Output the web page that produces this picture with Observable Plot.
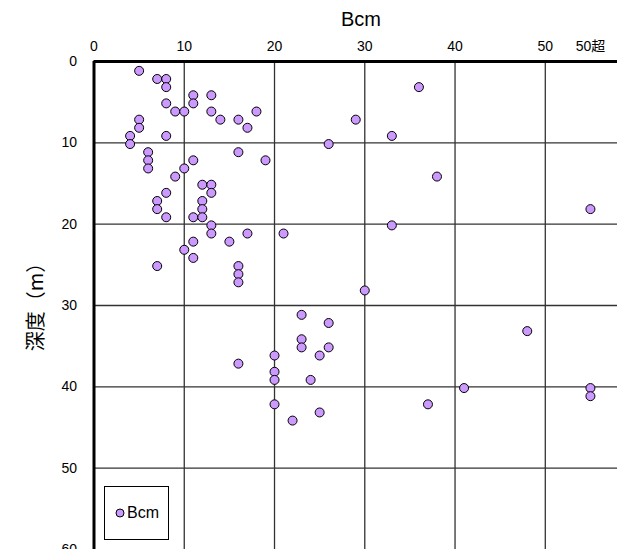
<!DOCTYPE html>
<html>
<head>
<meta charset="utf-8">
<script src="https://cdn.jsdelivr.net/npm/d3@7"></script>
<script src="https://cdn.jsdelivr.net/npm/@observablehq/plot@0.6"></script>
<style>
  body { margin: 0; background: #fff; }
  #wrap { position: relative; width: 617px; height: 549px; overflow: hidden; font-family: "Liberation Sans", "Noto Sans CJK JP", sans-serif; color: #000; }
  #title { position: absolute; left: 311px; width: 100px; top: 8px; text-align: center; font-size: 20px; }
  #ylab { position: absolute; left: 34px; top: 302px; transform: translate(-50%, -50%) rotate(-90deg); font-size: 20px; white-space: nowrap; font-family: "Noto Sans CJK JP", sans-serif; }
  #legend { position: absolute; left: 104px; top: 486px; width: 65px; height: 54px; box-sizing: border-box; border: 1px solid #000; background: #fff; display: flex; align-items: center; padding-left: 10px; font-size: 16px; }
  #legend svg { margin-right: 2px; }
  #chart svg text { font-size: 14px !important; }
</style>
</head>
<body>
<div id="wrap">
  <div id="chart"></div>
  <div id="title">Bcm</div>
  <div id="ylab">深度（m）</div>
  <div id="legend"><svg width="10" height="10"><circle cx="5" cy="5" r="4" fill="#cc99ff" stroke="#000" stroke-width="1"></circle></svg><span>Bcm</span></div>
</div>
<script>
const bcm = [5,7,8,8,36,11,13,8,11,9,10,13,18,5,14,16,29,5,17,4,8,33,4,26,6,16,6,11,19,6,10,9,38,12,13,8,13,7,12,7,12,55,8,11,12,13,33,13,17,21,11,15,10,11,7,16,16,16,30,23,26,48,23,23,26,20,25,16,20,20,24,41,55,55,20,37,25,22];
const depth = [1.15,2.15,2.15,3.15,3.15,4.15,4.15,5.15,5.15,6.15,6.15,6.15,6.15,7.15,7.15,7.15,7.15,8.15,8.15,9.15,9.15,9.15,10.15,10.15,11.15,11.15,12.15,12.15,12.15,13.15,13.15,14.15,14.15,15.15,15.15,16.15,16.15,17.15,17.15,18.15,18.15,18.15,19.15,19.15,19.15,20.15,20.15,21.15,21.15,21.15,22.15,22.15,23.15,24.15,25.15,25.15,26.15,27.15,28.15,31.15,32.15,33.15,34.15,35.15,35.15,36.15,36.15,37.15,38.15,39.15,39.15,40.15,40.15,41.15,42.15,42.15,43.15,44.15];
const xTicks = [0,10,20,30,40,50,55];
const xTickLabels = ["0","10","20","30","40","50","50超"];
const yTicks = [0,10,20,30,40,50,60];
const gridX = [10,20,30,40,50];
const gridY = [10,20,30,40,50];

const data = bcm.map((b, i) => ({bcm: b, depth: depth[i]}));

const chart = Plot.plot({
  width: 617,
  height: 549,
  marginLeft: 93.5,
  marginRight: 0,
  marginTop: 61,
  marginBottom: 0,
  style: {fontSize: "14px", fontFamily: "'Liberation Sans', 'Noto Sans CJK JP', sans-serif", color: "#000", background: "#fff", overflow: "visible"},
  x: {domain: [0, 58]},
  y: {domain: [0, 60], reverse: true},
  marks: [
    Plot.ruleX(gridX, {stroke: "#333", strokeWidth: 1.3}),
    Plot.ruleY(gridY, {stroke: "#333", strokeWidth: 1.3}),
    Plot.ruleX([0], {stroke: "#000", strokeWidth: 3}),
    Plot.ruleY([0], {stroke: "#000", strokeWidth: 3}),
    Plot.axisX({anchor: "top", ticks: xTicks, tickFormat: (d) => xTickLabels[xTicks.indexOf(d)], tickSize: 0, tickPadding: 11, label: null}),
    Plot.axisY({anchor: "left", ticks: yTicks, tickSize: 0, tickPadding: 17, label: null}),
    Plot.dot(data, {x: "bcm", y: "depth", r: 4.5, fill: "#cc99ff", stroke: "#000", strokeWidth: 1})
  ]
});
document.getElementById("chart").appendChild(chart);
</script>
</body>
</html>
